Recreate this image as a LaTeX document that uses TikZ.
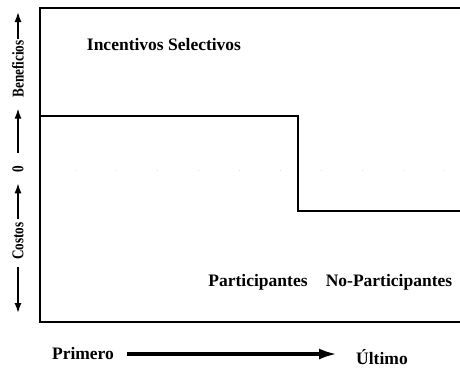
\documentclass[tikz,border=0pt]{standalone}
\usepackage{fontspec}
\setmainfont{Liberation Serif}
\usetikzlibrary{arrows.meta,positioning}

\begin{document}
\begin{tikzpicture}[x=1pt,y=-1pt,
  lbl/.style={font=\bfseries\fontsize{17.5}{19}\selectfont, inner sep=1pt},
  axis/.style={font=\bfseries\fontsize{16.5}{18}\selectfont, inner sep=1pt,
               rotate=90, xscale=0.8},
  frame/.style={line width=1.6pt},
  arr/.style={-{Latex[length=10pt,width=7pt]}, line width=1.5pt},
  bigarr/.style={-{Latex[length=18pt,width=11pt]}, line width=3.4pt}
]
  \useasboundingbox (0,0) rectangle (460,368);

  % frame and step
  \draw[frame] (460,8) -- (40,8) -- (40,322) -- (460,322);
  \draw[frame] (40,116) -- (298,116) -- (298,211) -- (460,211);
  \draw[black!12, line width=1pt, dash pattern=on 1pt off 40pt] (75,170) -- (460,170);

  % labels in the frame
  \node[lbl] (incent) at (164,45)  {Incentivos Selectivos};
  \node[lbl] (part)   at (258,282) {Participantes};
  \node[lbl] (nopart) at (389,282) {No-Participantes};

  % vertical axis
  \coordinate (top) at (18,12);
  \coordinate (bot) at (18,313);
  \node[axis] (benef) at (18,69)  {Beneficios};
  \node[axis] (zero)  at (18,169) {0};
  \node[axis] (cost)  at (18,241) {Costos};
  \draw[arr] (benef.east) -- (top);
  \draw[arr, shorten <=12pt, shorten >=10pt] (zero.east) -- (benef.west);
  \draw[arr, shorten <=2pt, shorten >=10pt] (cost.east) -- (zero.west);
  \draw[arr, shorten <=6pt] (cost.west) -- (bot);

  % horizontal axis
  \node[lbl] (first) at (83,354) {Primero};
  \node[lbl] (last)  at (382,357) {Último};
  \draw[bigarr, shorten <=12pt, shorten >=18pt] (first.east) -- (first.east -| last.west);
\end{tikzpicture}
\end{document}
